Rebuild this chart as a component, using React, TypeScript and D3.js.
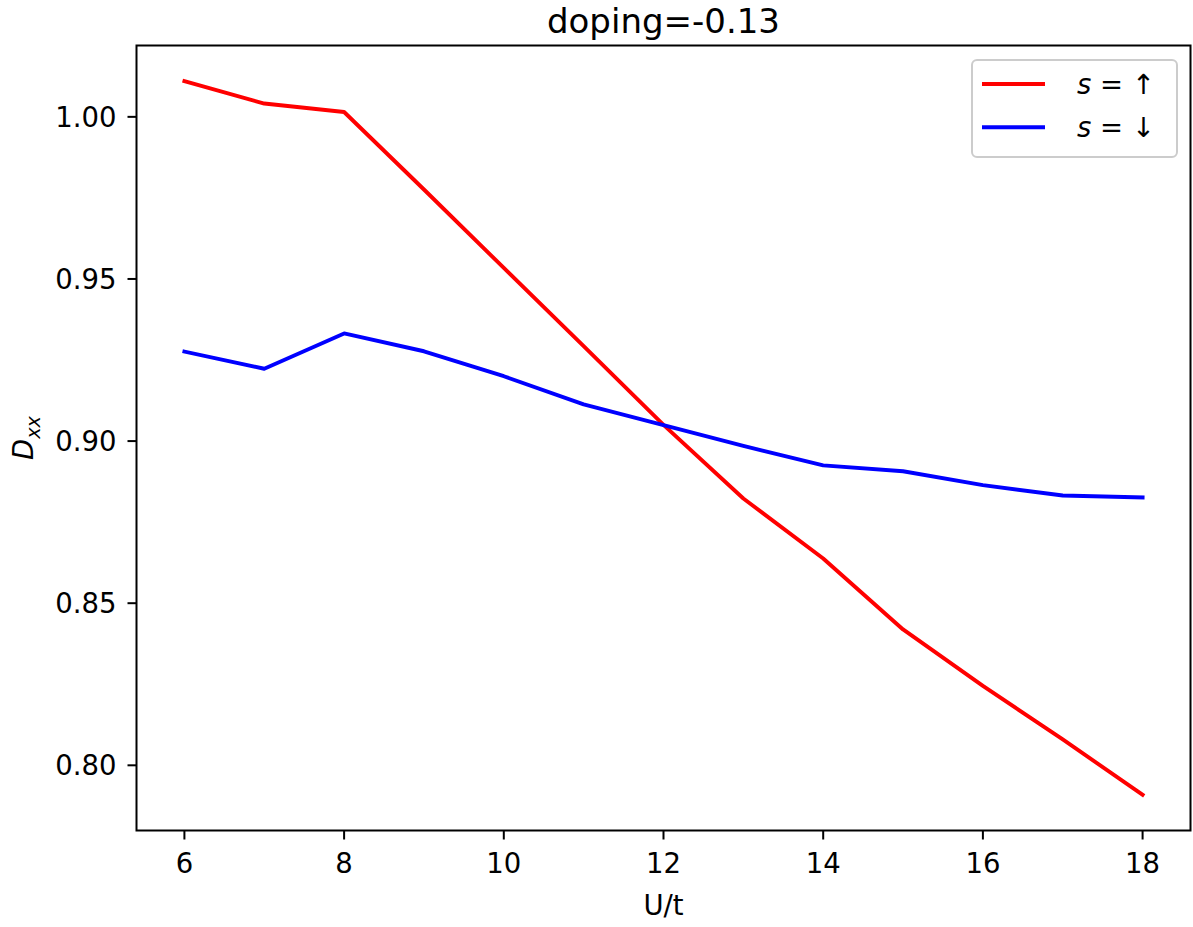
import React from "react";
import * as d3 from "d3";

const uValues = [6, 7, 8, 9, 10, 11, 12, 13, 14, 15, 16, 17, 18];
const spinUp = [1.011, 1.0041, 1.0015, 0.9776, 0.9534, 0.9293, 0.905, 0.8823, 0.8638, 0.8419, 0.8245, 0.808, 0.7909];
const spinDown = [0.9276, 0.9223, 0.9332, 0.9277, 0.92, 0.9113, 0.9049, 0.8985, 0.8925, 0.8907, 0.8864, 0.8832, 0.8826];
const xTicks = [6, 8, 10, 12, 14, 16, 18];
const yTicks = [0.8, 0.85, 0.9, 0.95, 1.0];
const seriesNames = ["s = ↑", "s = ↓"];
const seriesColors = ["#ff0000", "#0000ff"];
const titleText = "doping=-0.13";

const W = 1193;
const H = 927;
const left = 136.5, right = 1190.5, top = 45.5, bottom = 830.5;
const FONT = "DejaVu Sans, Verdana, sans-serif";
const FS = 27.5;

export default function App() {
  const allY = [...spinUp, ...spinDown];
  const yMin = d3.min(allY)!;
  const yMax = d3.max(allY)!;
  const yPad = (yMax - yMin) * 0.05;
  const xMin = d3.min(uValues)!;
  const xMax = d3.max(uValues)!;
  const xPad = (xMax - xMin) * 0.05;

  const x = d3.scaleLinear().domain([xMin - xPad, xMax + xPad]).range([left, right]);
  const y = d3.scaleLinear().domain([yMin - yPad, yMax + yPad]).range([bottom, top]);

  const line = d3
    .line<number>()
    .x((_, i) => x(uValues[i]))
    .y((d) => y(d));

  const series = [spinUp, spinDown];

  const legX = 972, legY = 60, legW = 205, legH = 97;

  return (
    <svg
      width={W}
      height={H}
      style={{ position: "absolute", left: 0, top: 0, background: "#fff" }}
      fontFamily={FONT}
    >
      <rect x={0} y={0} width={W} height={H} fill="#fff" />
      <defs>
        <clipPath id="clip">
          <rect x={left} y={top} width={right - left} height={bottom - top} />
        </clipPath>
      </defs>
      {/* lines */}
      <g clipPath="url(#clip)">
        {series.map((s, i) => (
          <path
            key={i}
            d={line(s) || ""}
            fill="none"
            stroke={seriesColors[i]}
            strokeWidth={3.9}
            strokeLinejoin="round"
            strokeLinecap="square"
          />
        ))}
      </g>
      {/* spines */}
      <rect
        x={left}
        y={top}
        width={right - left}
        height={bottom - top}
        fill="none"
        stroke="#000"
        strokeWidth={2}
        strokeLinejoin="miter"
      />
      {/* x ticks */}
      {xTicks.map((t) => (
        <g key={t}>
          <line x1={x(t)} x2={x(t)} y1={bottom} y2={bottom + 9} stroke="#000" strokeWidth={2} />
          <text x={x(t)} y={bottom + 42} fontSize={FS} textAnchor="middle" fill="#000">
            {t}
          </text>
        </g>
      ))}
      {/* y ticks */}
      {yTicks.map((t) => (
        <g key={t}>
          <line x1={left - 9} x2={left} y1={y(t)} y2={y(t)} stroke="#000" strokeWidth={2} />
          <text x={left - 20} y={y(t)} dy="0.36em" fontSize={FS} textAnchor="end" fill="#000">
            {d3.format(".2f")(t)}
          </text>
        </g>
      ))}
      {/* axis labels */}
      <text x={(left + right) / 2} y={915} fontSize={FS} textAnchor="middle" fill="#000">
        U/t
      </text>
      <g transform={`translate(${33},${(top + bottom) / 2}) rotate(-90)`}>
        <text x={0} y={0} fontSize={FS} textAnchor="middle" fill="#000">
          <tspan fontStyle="italic">D</tspan>
          <tspan fontStyle="italic" fontSize={FS * 0.7} dy={7}>
            xx
          </tspan>
        </text>
      </g>
      {/* title */}
      <text x={(left + right) / 2} y={33} fontSize={34} textAnchor="middle" fill="#000">
        {titleText}
      </text>
      {/* legend */}
      <rect
        x={legX}
        y={legY}
        width={legW}
        height={legH}
        rx={5}
        ry={5}
        fill="#fff"
        fillOpacity={0.8}
        stroke="#cccccc"
        strokeWidth={2}
      />
      {seriesNames.map((name, i) => {
        const ly = 84 + i * 43.3;
        const parts = name.split(" = ");
        return (
          <g key={name}>
            <line x1={982} x2={1045} y1={ly} y2={ly} stroke={seriesColors[i]} strokeWidth={3.9} />
            <text x={1077} y={ly} dy="0.36em" fontSize={FS} fill="#000">
              <tspan fontStyle="italic">{parts[0]}</tspan>
              <tspan>{" = "}</tspan>
              <tspan>{parts[1]}</tspan>
            </text>
          </g>
        );
      })}
    </svg>
  );
}
